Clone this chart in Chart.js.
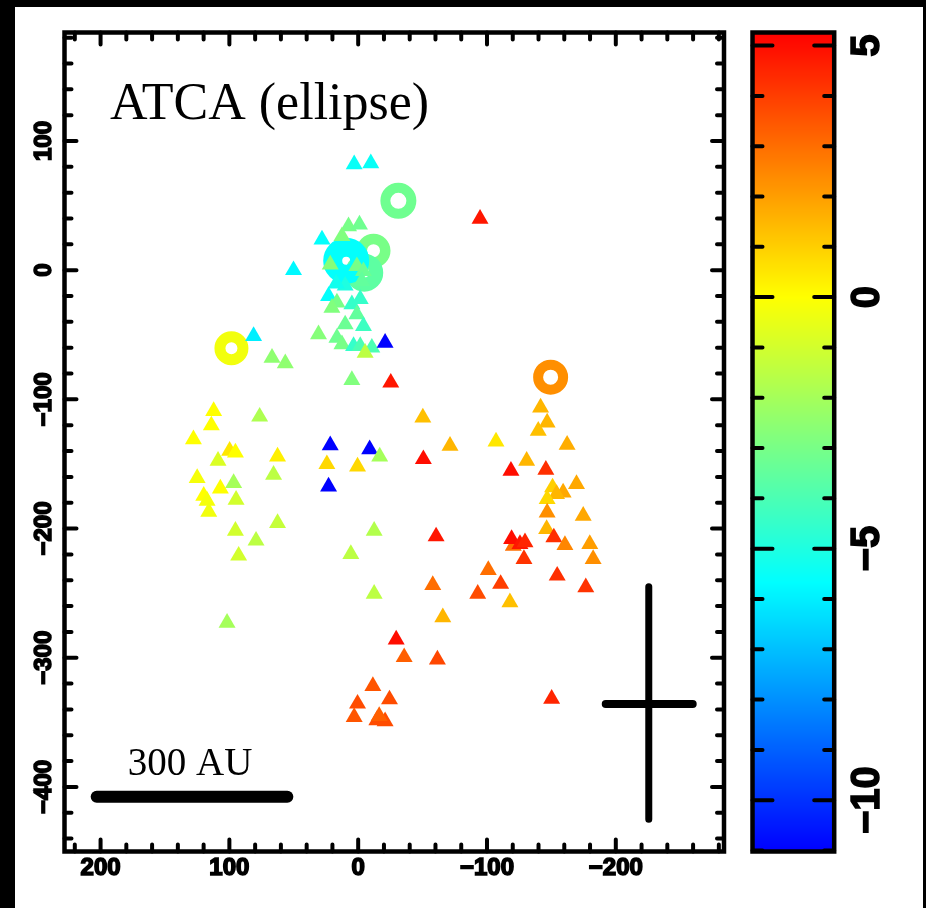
<!DOCTYPE html>
<html>
<head>
<meta charset="utf-8">
<script src="https://cdn.jsdelivr.net/npm/chart.js@4"></script>
<style>
html, body { margin: 0; padding: 0; background: #000; }
#wrap { width: 926px; height: 908px; }
</style>
</head>
<body>
<div id="wrap"><canvas id="chart" width="926" height="908"></canvas></div>
<script>
// triangles: offset x, offset y, velocity
var triX = [3.1, -9.8, -94.6, 28.1, 7.5, -1.0, 12.6, 21.7, 1.0, -4.1, -2.9, 10.1, 17.1, 23.0, 16.5, 20.4, 4.9, -1.6, 1.0, 10.1,
  -4.1, 30.8, 16.5, 12.6, 3.6, -1.6, -10.6, -5.4, -20.9, 50.2, 81.2, 66.9, 56.6, 4.9, -25.3, -50.2, 112.2, 114.0, 76.5, 127.9,
  99.8, 95.3, 108.8, 62.6, 65.7, 125.0, 96.7, 107.0, 119.9, 117.3, 116.0, 94.8, 62.6, 95.3, 79.3, 92.8, 101.8, 21.7, -8.9, -16.7,
  24.3, 0.5, 23.0, -50.6, -71.3, -12.4, 5.7, -12.4, -60.5, -57.9, -65.7, -29.5, -35.7, -61.5, -11.4, 0.5, -24.3, 3.1, -14.5, -20.9,
  -16.3, -141.6, -146.7, -139.8, -107.0, -162.2, -130.8, -118.6, -145.7, -169.5, -150.9, -159.1, -154.0, -146.7, -146.7, -174.7, -146.3, -151.9, -120.4, -119.1,
  -125.6, -129.5, -160.5, -179.8, -128.7, -182.4, -101.0, -154.5, -110.6, -92.8, -176.7, -117.8, -150.2]
var triY = [81.9, 82.7, 39.8, 23.7, 34.0, 35.3, 26.3, 4.4, 3.1, -0.8, -8.5, -12.0, -10.4, -20.1, -25.1, -29.1, -26.5, -22.4, -34.2, -42.0,
  -43.3, -49.7, -52.3, -57.4, -58.7, -58.7, -60.0, -63.9, -56.2, 0, -51.0, -67.8, -72.1, -85.0, -87.1, -114.1, -109.0, -120.2, -113.4, -131.0,
  -139.9, -141.2, -147.6, -144.3, -158.4, -161.0, -164.8, -169.0, -174.7, -178.5, -187.0, -177.7, -195.7, -201.7, -209.4, -221.0, -273.0, -135.5, -138.7, -144.3,
  -150.2, -152.0, -167.5, -146.3, -136.0, -201.7, -219.7, -250.6, -206.1, -243.7, -268.7, -285.9, -299.6, -301.4, -322.0, -335.6, -332.3, -346.0, -348.5, -349.3,
  -345.1, -106.4, -118.0, -124.4, -132.7, -135.2, -147.6, -155.3, -154.6, -165.6, -168.2, -172.1, -173.3, -177.2, -187.6, -190.1, -200.4, -206.9, -213.3, -208.1,
  -212.0, -210.7, -212.8, -212.0, -223.6, -223.6, -232.1, -236.5, -242.9, -250.6, -245.5, -257.1, -331.8]
var triV = [-5.5, -5.5, 4.8, -5.6, -3.0, -3.2, -2.8, -2.7, -3.0, -3.3, -3.5, -5.0, -5.3, -5.6, -3.0, -2.8, -4.5, -4.5, -3.5, -3.3,
  -4.3, -2.7, -3.2, -3.0, -4.5, -4.0, -4.0, -1.5, -11, -5.8, -6.0, -2.5, -2.5, -2.8, 4.8, 1.3, 0, 0, -1.8, 0,
  0.5, 0, -0.8, 0.3, -1.5, -0.2, -2, 0, 0, -0.2, -0.3, -1, -1.3, -1, -1.5, -1, -2, -11, -11, -2,
  0.8, 0.8, -11, 5, 1.5, -1.7, -1.5, -1.5, 4.8, 3, 1.5, 5, 3.3, 3.8, 3.5, 3.7, 3.7, 3.5, 3.7, 3.7,
  3.3, 1.5, 1.5, 1.3, 0.5, 1.7, 1.5, 5, 4.3, 1.8, 1, 1.8, 1.5, 0.8, 2.3, 1.8, 1.5, 4.3, 3, 5,
  4.8, 4.5, 2.5, 2, 4.2, 2.3, 3, 4.3, 4, 3.7, 4.2, 1.3, 4.5]

// rings (ellipse fits): offset x, offset y, velocity
var ringX = [98.4, -31.2, -11.9, -4.7, 9.3, -149.4]
var ringY = [-60.4, 53.7, 15.1, -1.9, 7.3, -82.8]
var ringV = [-0.3, -3.2, -3.0, -3.6, -5.6, 2.3]

// scale bar and beam cross
var barX = [203, 55]
var barY = [-407.7, -407.7]
var crossVX = [-225.6, -225.6]
var crossVY = [-245, -425]
var crossHX = [-192.2, -259.7]
var crossHY = [-335.8, -335.8]

var xTicks = [200, 100, 0, -100, -200]
var yTicks = [100, 0, -100, -200, -300, -400]
var cbTicks = [5, 0, -5, -10]

// jet-like colour table of the bar
var cmapV = [-11.02, -5.67, 0, 5.26]
var cmapRGB = [[0, 0, 255], [0, 255, 255], [255, 255, 0], [255, 0, 0]]

// ring looks: outer radius / stroke in px
var ringOuter = [17, 18, 17, 19, 23, 17.5]
var ringStroke = [11, 10, 10.5, 14, 19, 10]

function cmap(v) {
  if (v <= cmapV[0]) return 'rgb(' + cmapRGB[0].join(',') + ')'
  for (var i = 1; i < cmapV.length; i++) {
    if (v <= cmapV[i]) {
      var t = (v - cmapV[i - 1]) / (cmapV[i] - cmapV[i - 1])
      var a = cmapRGB[i - 1], b = cmapRGB[i]
      return 'rgb(' + Math.round(a[0] + (b[0] - a[0]) * t) + ',' + Math.round(a[1] + (b[1] - a[1]) * t) + ',' + Math.round(a[2] + (b[2] - a[2]) * t) + ')'
    }
  }
  return 'rgb(' + cmapRGB[cmapRGB.length - 1].join(',') + ')'
}

function fmt(v) {
  return v < 0 ? '\u2212' + Math.abs(v) : String(v)
}

function pts(xs, ys) {
  return xs.map(function(x, i) { return {x: x, y: ys[i]} })
}

// fix axis box sizes so the plot frame lands where the original has it
function fixBox(w, h) {
  return function(s) {
    if (w !== null) s.width = w
    if (h !== null) s.height = h
    s.paddingTop = 0
    s.paddingBottom = 0
    s.paddingLeft = 0
    s.paddingRight = 0
  }
}

var CB_LEFT = 752.5
var CB_RIGHT = 834.2

var decor = {
  id: 'decor',
  beforeDraw: function(chart) {
    var ctx = chart.ctx
    ctx.save()
    ctx.fillStyle = '#000'
    ctx.fillRect(0, 0, chart.width, chart.height)
    ctx.fillStyle = '#fff'
    ctx.fillRect(15, 7, 908, 901)
    var cb = chart.scales.cb
    for (var y = Math.floor(cb.top); y < cb.bottom; y++) {
      ctx.fillStyle = cmap(cb.getValueForPixel(y + 0.5))
      ctx.fillRect(CB_LEFT, y, CB_RIGHT - CB_LEFT, 1)
    }
    ctx.restore()
  },
  afterDatasetsDraw: function(chart) {
    var ctx = chart.ctx
    var a = chart.chartArea
    var xs = chart.scales.x, ys = chart.scales.y, cb = chart.scales.cb
    ctx.save()
    ctx.strokeStyle = '#000'
    ctx.lineCap = 'round'
    ctx.lineWidth = 4
    var v, p, len
    for (v = -280; v <= 220; v += 20) {
      p = xs.getPixelForValue(v)
      len = v % 100 === 0 ? 12 : 7
      ctx.beginPath()
      ctx.moveTo(p, a.bottom); ctx.lineTo(p, a.bottom - len)
      ctx.moveTo(p, a.top); ctx.lineTo(p, a.top + len)
      ctx.stroke()
    }
    for (v = -440; v <= 180; v += 20) {
      p = ys.getPixelForValue(v)
      len = v % 100 === 0 ? 12 : 7
      ctx.beginPath()
      ctx.moveTo(a.left, p); ctx.lineTo(a.left + len, p)
      ctx.moveTo(a.right, p); ctx.lineTo(a.right - len, p)
      ctx.stroke()
    }
    for (v = -11; v <= 5; v++) {
      p = cb.getPixelForValue(v)
      len = v % 5 === 0 ? 20 : 10
      ctx.beginPath()
      ctx.moveTo(CB_LEFT, p); ctx.lineTo(CB_LEFT + len, p)
      ctx.moveTo(CB_RIGHT, p); ctx.lineTo(CB_RIGHT - len, p)
      ctx.stroke()
    }
    ctx.lineCap = 'butt'
    ctx.lineJoin = 'miter'
    ctx.lineWidth = 4.5
    ctx.strokeRect(a.left, a.top, a.right - a.left, a.bottom - a.top)
    ctx.strokeRect(CB_LEFT, cb.top, CB_RIGHT - CB_LEFT, cb.bottom - cb.top)

    ctx.fillStyle = '#000'
    ctx.textBaseline = 'alphabetic'
    ctx.textAlign = 'left'
    ctx.font = '52px "Liberation Serif"'
    ctx.fillText('ATCA (ellipse)', 110, 119)
    ctx.textAlign = 'center'
    ctx.font = '39px "Liberation Serif"'
    var bx = (xs.getPixelForValue(barX[0]) + xs.getPixelForValue(barX[1])) / 2
    ctx.fillText('300 AU', bx - 2, ys.getPixelForValue(barY[0]) - 22)
    ctx.restore()
  }
}

var tickFont = {family: '"Liberation Sans", Arial, sans-serif', weight: 'bold', size: 24}
var noGrid = {display: false, drawTicks: false}

var chart = new Chart(document.getElementById('chart').getContext('2d'), {
  type: 'scatter',
  data: {
    datasets: [
      {
        data: pts(barX, barY), showLine: true, borderColor: '#000', borderWidth: 12,
        borderCapStyle: 'round', pointRadius: 0, order: 0,
      },
      {
        data: pts(crossVX, crossVY), showLine: true, borderColor: '#000', borderWidth: 7,
        borderCapStyle: 'round', pointRadius: 0, order: 0,
      },
      {
        data: pts(crossHX, crossHY), showLine: true, borderColor: '#000', borderWidth: 8,
        borderCapStyle: 'round', pointRadius: 0, order: 0,
      },
      {
        data: pts(triX, triY), pointStyle: 'triangle', pointRadius: 9.8, pointBorderWidth: 0,
        pointBackgroundColor: triV.map(cmap), order: 1,
      },
      {
        data: pts(ringX, ringY), pointStyle: 'circle',
        pointRadius: ringOuter.map(function(r, i) { return r - ringStroke[i] / 2 }),
        pointBorderWidth: ringStroke, pointBorderColor: ringV.map(cmap),
        pointBackgroundColor: 'rgba(0,0,0,0)', order: 2,
      },
    ],
  },
  options: {
    responsive: false,
    devicePixelRatio: 1,
    animation: false,
    events: [],
    layout: {padding: {left: 0, right: 0, top: 32, bottom: 0}},
    plugins: {legend: {display: false}, tooltip: {enabled: false}},
    scales: {
      x: {
        type: 'linear', position: 'bottom', reverse: true, min: -284, max: 228,
        grid: noGrid, border: {display: false},
        afterBuildTicks: function(s) { s.ticks = xTicks.map(function(v) { return {value: v} }) },
        afterFit: fixBox(null, 56.5),
        ticks: {font: tickFont, color: '#000', textStrokeColor: '#000', textStrokeWidth: 1.6, padding: 2.6,
          autoSkip: false, minRotation: 0, maxRotation: 0, callback: fmt},
      },
      y: {
        type: 'linear', position: 'left', min: -450, max: 184,
        grid: noGrid, border: {display: false},
        afterBuildTicks: function(s) { s.ticks = yTicks.map(function(v) { return {value: v} }) },
        afterFit: fixBox(64.5, null),
        ticks: {font: tickFont, color: '#000', textStrokeColor: '#000', textStrokeWidth: 1.6, padding: -6.5,
          autoSkip: false, minRotation: 90, maxRotation: 90, crossAlign: 'center', callback: fmt},
      },
      cb: {
        type: 'linear', axis: 'y', position: 'right', min: -11.02, max: 5.26,
        grid: noGrid, border: {display: false},
        afterBuildTicks: function(s) { s.ticks = cbTicks.map(function(v) { return {value: v} }) },
        afterFit: fixBox(202, null),
        ticks: {font: {family: '"Liberation Sans", Arial, sans-serif', weight: 'bold', size: 40}, color: '#000',
          textStrokeColor: '#000', textStrokeWidth: 1.5, padding: 110,
          autoSkip: false, minRotation: 90, maxRotation: 90, crossAlign: 'center', callback: fmt},
      },
    },
  },
  plugins: [decor],
})
</script>
</body>
</html>
